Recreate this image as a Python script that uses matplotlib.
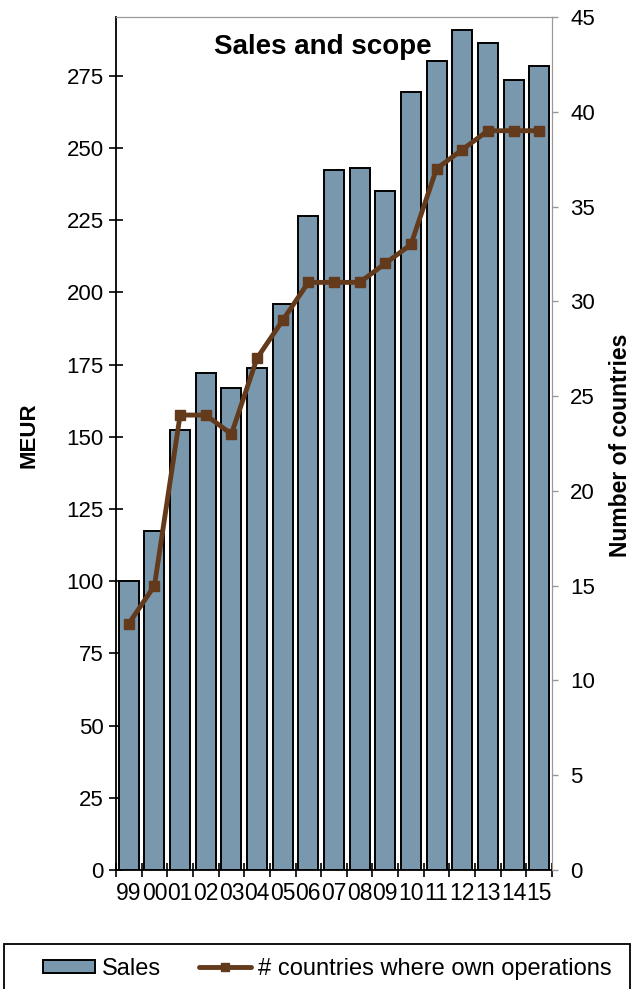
import matplotlib
matplotlib.use("Agg")
import matplotlib.pyplot as plt
from matplotlib.patches import Rectangle
from matplotlib.lines import Line2D
from matplotlib.patches import Patch
import numpy as np

plt.rcParams['font.family'] = ['Liberation Sans', 'DejaVu Sans']

years = ["99", "00", "01", "02", "03", "04", "05", "06", "07", "08",
         "09", "10", "11", "12", "13", "14", "15"]
sales = [100, 117.5, 152.5, 172, 167, 174, 196, 226.5, 242.5, 243,
         235, 269.5, 280, 291, 286.5, 273.5, 278.5]
countries = [13, 15, 24, 24, 23, 27, 29, 31, 31, 31,
             32, 33, 37, 38, 39, 39, 39]

bar_color = "#7a98ad"
line_color = "#643a1c"
W, H = 635, 989

fig = plt.figure(figsize=(W / 100, H / 100), dpi=100)
ax = fig.add_axes([116 / W, 1 - 870 / H, 436 / W, 853 / H])
x = np.arange(len(years))

ax.bar(x, sales, width=0.78, color=bar_color, edgecolor="black", linewidth=1.4, zorder=2)
ax.set_xlim(-0.5, len(years) - 0.5)
ax.set_ylim(0, 295.4)
ax.set_yticks(np.arange(0, 276, 25))
ax.tick_params(axis="y", direction="inout", length=10, width=1.2, pad=4, labelsize=16)

# category boundaries get the tick marks, centres get the labels
ax.set_xticks(np.arange(-0.5, len(years)), [""] * (len(years) + 1))
ax.set_xticks(x, years, minor=True)
ax.tick_params(axis="x", which="major", direction="inout", length=10, width=1.2)
ax.tick_params(axis="x", which="minor", length=0, pad=9, labelsize=16.5)

ax.spines["left"].set_linewidth(1.3)
ax.spines["bottom"].set_linewidth(1.3)
ax.spines["top"].set_color("#999999")
ax.spines["right"].set_color("#999999")

ax.set_ylabel("MEUR", fontsize=16, fontweight="bold")
ax.yaxis.label.set(ha="center", va="center")
ax.yaxis.set_label_coords((29 - 116) / 436, (870 - 435) / 853)

ax2 = ax.twinx()
ax2.plot(x, countries, color=line_color, linewidth=3.5, marker="s", markersize=7.5,
         solid_capstyle="round", solid_joinstyle="round")
ax2.set_ylim(0, 45)
ax2.set_yticks(np.arange(0, 46, 5))
ax2.tick_params(axis="y", direction="out", length=4, width=1, color="#999999", pad=9, labelsize=16)
ax2.spines["right"].set_color("#999999")
ax2.spines["top"].set_color("#999999")
ax2.spines["left"].set_visible(False)
ax2.spines["bottom"].set_visible(False)
ax2.set_ylabel("Number of countries", fontsize=16.5, fontweight="bold")
ax2.yaxis.label.set(ha="center", va="center")
ax2.yaxis.set_label_coords((620 - 116) / 436, (870 - 445) / 853)

ax.text((323 - 116) / 436, (870 - 47) / 853, "Sales and scope", transform=ax.transAxes,
        ha="center", va="center", fontsize=20, fontweight="bold", zorder=5)

# legend box runs off the bottom of the figure
fig.patches.append(Rectangle((4 / W, -0.02), 626 / W, 0.02 + (H - 944) / H,
                             transform=fig.transFigure, fill=False,
                             edgecolor="black", linewidth=1.3))
handles = [Patch(facecolor=bar_color, edgecolor="black", linewidth=1.4),
           Line2D([], [], color=line_color, linewidth=3.5, marker="s", markersize=6,
                  solid_capstyle="round")]
fig.legend(handles, ["Sales", "# countries where own operations"], loc="center left",
           bbox_to_anchor=(43 / W, 1 - 969 / H), frameon=False, ncol=2, fontsize=17,
           borderpad=0, borderaxespad=0, handlelength=2.2, handleheight=0.5,
           handletextpad=0.3, columnspacing=1.6)

fig.savefig("out.png", dpi=100)
